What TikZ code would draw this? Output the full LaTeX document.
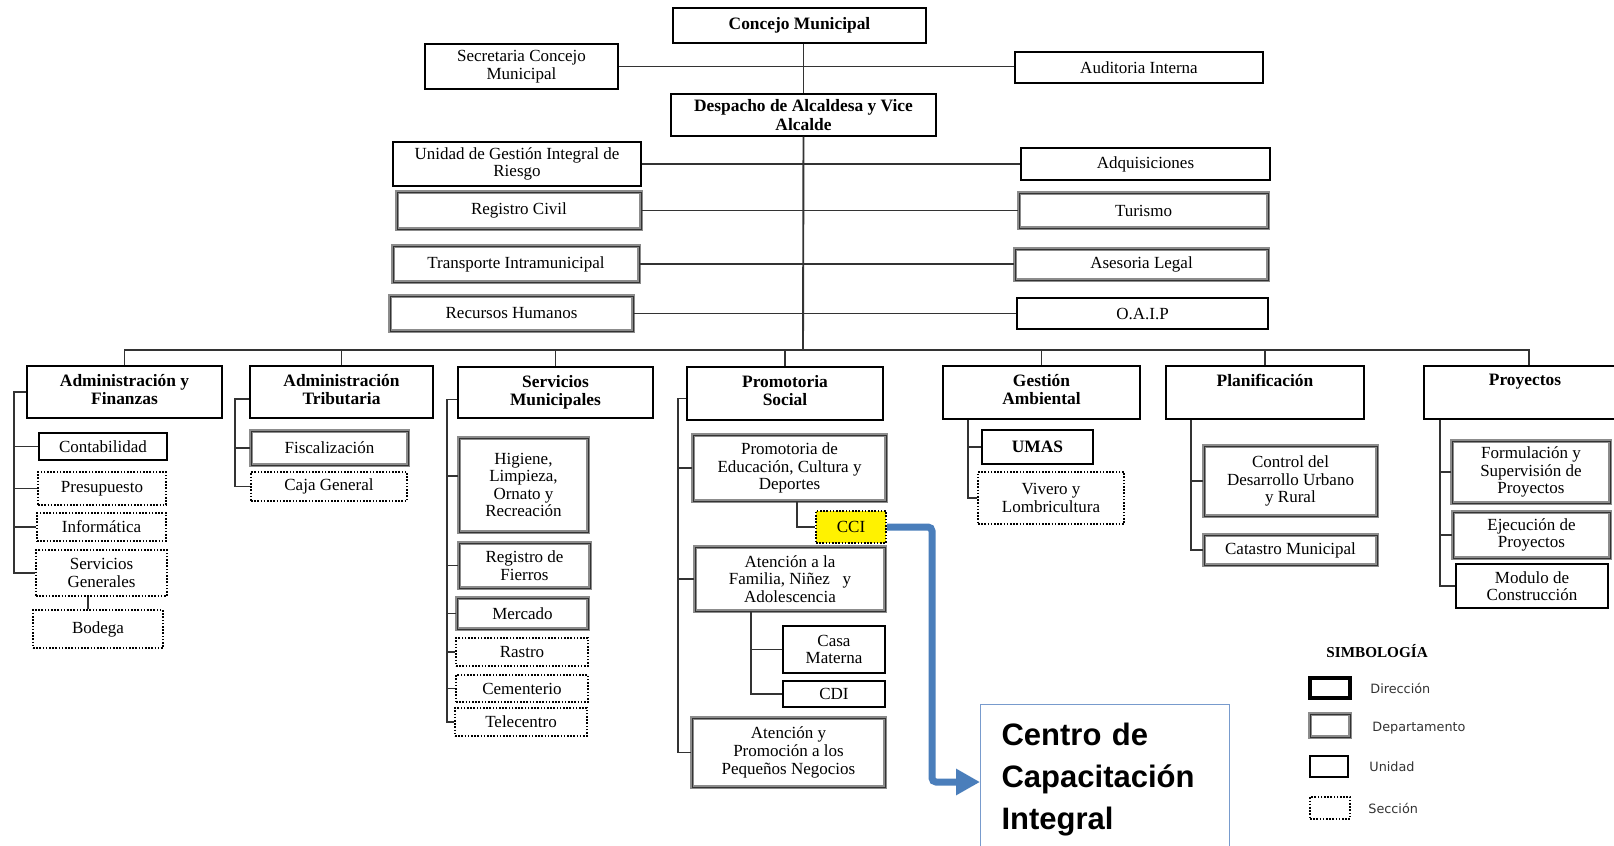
\documentclass[tikz,border=0pt]{standalone}
\usepackage{fontspec}
\setmainfont{Liberation Serif}
\newfontfamily\arialf{Liberation Sans}
\newfontfamily\legf{DejaVu Sans}
\usetikzlibrary{arrows.meta}
\definecolor{arrowblue}{RGB}{74,126,187}
\definecolor{callblue}{RGB}{120,155,205}
\newcommand\obox[7]{\node[#6, minimum width={(#4-#2)*0.5pt}, minimum height={(#5-#3)*0.5pt}] (#1) at ({(#2+#4)/2},{(#3+#5)/2}) {#7};}
\begin{document}
\begin{tikzpicture}[x=0.5pt,y=-0.5pt,
  base/.style={inner sep=1pt, align=center, fill=white, font=\fontsize{8.5}{8.8}\selectfont},
  bft/.style={font=\bfseries\fontsize{8.7}{9.2}\selectfont},
  dirbox/.style={base, draw=black, line width=1.3pt},
  deptbox/.style={base, draw=black!45, line width=0.65pt, double=black!80, double distance=0.45pt},
  unidbox/.style={base, draw=black, line width=0.65pt},
  seccbox/.style={base, draw=black, line width=0.8pt, dash pattern=on 0.8pt off 0.8pt},
  conn/.style={draw=black!80, line width=0.95pt},
  lbl/.style={anchor=north, inner sep=0pt, align=center, yshift=-4.5pt, font=\bfseries\fontsize{8.7}{9.2}\selectfont},
  legtxt/.style={anchor=west, inner sep=0pt, font=\legf\fontsize{6.4}{7}\selectfont, text=black!80},
  bluearr/.style={draw=arrowblue, line width=3.5pt, rounded corners=2pt, -{Triangle[length=12pt,width=12.5pt]}},
  callbox/.style={draw=callblue, line width=0.6pt, fill=white, anchor=north west, text width=103.5pt, align=left, inner xsep=10.5pt, inner ysep=9pt, font=\arialf\bfseries\fontsize{15.5}{21}\selectfont}
]
\useasboundingbox[fill=white] (0,0) rectangle (1614,846);

% ---- top level
\obox{conc}{673}{8}{926}{43}{unidbox, bft}{Concejo Municipal}
\obox{sec}{425}{44}{618}{89}{unidbox}{Secretaria Concejo\\Municipal}
\obox{aud}{1015}{52}{1263}{83}{unidbox}{Auditoria Interna}
\obox{desp}{671}{94}{936}{136}{unidbox, bft}{Despacho de Alcaldesa y Vice\\Alcalde}
\obox{ugir}{393}{142}{641}{186}{unidbox}{Unidad de Gestión Integral de\\Riesgo}
\obox{adq}{1021}{148}{1270}{180}{unidbox}{Adquisiciones}
\obox{rc}{397}{192}{641}{229}{deptbox}{Registro Civil}
\obox{tur}{1019}{193}{1268}{228}{deptbox}{Turismo}
\obox{trans}{393}{246}{639}{282}{deptbox}{Transporte Intramunicipal}
\obox{ases}{1015}{249}{1268}{280}{deptbox}{Asesoria Legal}
\obox{rrhh}{390}{296}{633}{331}{deptbox}{Recursos Humanos}
\obox{oaip}{1017}{298}{1268}{329}{unidbox}{O.A.I.P}

% ---- direcciones
\obox{ayf}{27}{366}{222}{418}{dirbox, label={[lbl]north:{Administración y\\Finanzas}}}{}
\obox{at}{250}{366}{433}{418}{dirbox, label={[lbl]north:{Administración\\Tributaria}}}{}
\obox{sm}{458}{367}{653}{418}{dirbox, label={[lbl]north:{Servicios\\Municipales}}}{}
\obox{ps}{687}{367}{883}{420}{dirbox, label={[lbl]north:{Promotoria\\Social}}}{}
\obox{ga}{943}{366}{1140}{419}{dirbox, label={[lbl]north:{Gestión\\Ambiental}}}{}
\obox{plan}{1166}{366}{1364}{419}{dirbox, label={[lbl]north:{Planificación}}}{}
\obox{proy}{1424}{366}{1634}{419}{dirbox, label={[lbl, xshift=-2pt]north:{Proyectos}}}{}

% ---- level 3
\obox{cont}{39}{433}{167}{460}{unidbox}{Contabilidad}
\obox{pres}{38}{472}{166}{505}{seccbox}{Presupuesto}
\obox{info}{37}{513}{166}{541}{seccbox}{Informática}
\obox{sgen}{36}{550}{167}{596}{seccbox}{Servicios\\Generales}
\obox{bod}{33}{610}{163}{648}{seccbox}{Bodega}
\obox{fisc}{251}{431}{408}{465}{deptbox}{Fiscalización}
\obox{caja}{251}{472}{407}{501}{seccbox}{Caja General}
\obox{hig}{459}{438}{588}{532}{deptbox}{Higiene,\\Limpieza,\\Ornato y\\Recreación}
\obox{rfi}{459}{543}{590}{588}{deptbox}{Registro de\\Fierros}
\obox{merc}{457}{598}{588}{629}{deptbox}{Mercado}
\obox{rast}{456}{638}{588}{666}{seccbox}{Rastro}
\obox{cem}{456}{675}{588}{702}{seccbox}{Cementerio}
\obox{tele}{455}{708}{587}{736}{seccbox}{Telecentro}
\obox{ped}{693}{435}{886}{501}{deptbox}{Promotoria de\\Educación, Cultura y\\Deportes}
\obox{cci}{816}{511}{886}{543}{seccbox, fill=yellow}{CCI}
\obox{afa}{695}{547}{885}{611}{deptbox}{Atención a la\\Familia, Niñez\ \ \ y\\Adolescencia}
\obox{cm}{783}{626}{885}{673}{unidbox}{Casa\\Materna}
\obox{cdi}{783}{681}{885}{707}{unidbox}{CDI}
\obox{apn}{692}{718}{885}{787}{deptbox}{Atención y\\Promoción a los\\Pequeños Negocios}
\obox{umas}{982}{430}{1093}{464}{unidbox, bft}{UMAS}
\obox{viv}{978}{472}{1124}{524}{seccbox}{Vivero y\\Lombricultura}
\obox{cdu}{1204}{446}{1377}{516}{deptbox}{Control del\\Desarrollo Urbano\\y Rural}
\obox{cat}{1204}{535}{1377}{565}{deptbox}{Catastro Municipal}
\obox{form}{1452}{441}{1610}{503}{deptbox}{Formulación y\\Supervisión de\\Proyectos}
\obox{ejec}{1453}{512}{1610}{558}{deptbox}{Ejecución de\\Proyectos}
\obox{mod}{1456}{564}{1608}{608}{unidbox}{Modulo de\\Construcción}

% ---- trunk and top connectors
\coordinate (bus) at (803,350);
\draw[conn] (desp.north|-conc.south) -- (desp.north);
\draw[conn] (desp.south) -- (bus);
\draw[conn] (sec.east) -- (sec.east-|aud.west);
\draw[conn] (ugir.east) -- (ugir.east-|adq.west);
\draw[conn] (rc.east) -- (rc.east-|tur.west);
\draw[conn] (trans.east) -- (trans.east-|ases.west);
\draw[conn] (rrhh.east) -- (rrhh.east-|oaip.west);

% ---- bus
\draw[conn] (ayf.north) -- (ayf.north|-bus) -- (proy.north|-bus) -- (proy.north);
\foreach \n in {at,sm,ps,ga,plan} \draw[conn] (\n.north) -- (\n.north|-bus);

% ---- Administracion y Finanzas
\coordinate (s1) at (14,392);
\draw[conn] (ayf.west) -- (ayf.west-|s1) |- (sgen.west);
\foreach \n in {cont,pres,info} \draw[conn] (\n.west) -- (\n.west-|s1);
\coordinate (bx) at (88,0);
\draw[conn] (sgen.south-|bx) -- (bod.north-|bx);

% ---- Administracion Tributaria
\coordinate (s2) at (235,0);
\draw[conn] ([yshift=-3.5pt]at.west) -| (s2|-caja.west) -- (caja.west);
\draw[conn] (fisc.west) -- (fisc.west-|s2);

% ---- Servicios Municipales
\coordinate (s3) at (447,0);
\draw[conn] ([yshift=-3.5pt]sm.west) -| (s3|-tele.west) -- (tele.west);
\draw[conn] ([yshift=4.5pt]hig.west) -- ([yshift=4.5pt]hig.west-|s3);
\foreach \n in {rfi,merc,rast,cem} \draw[conn] (\n.west) -- (\n.west-|s3);

% ---- Promotoria Social
\coordinate (s4) at (678,0);
\draw[conn] ([yshift=-2.5pt]ps.west) -| (s4|-apn.west) -- (apn.west);
\foreach \n in {ped,afa} \draw[conn] (\n.west) -- (\n.west-|s4);
\draw[conn] ([xshift=3.75pt]ped.south) |- (cci.west);
\coordinate (s5) at ([xshift=-19.5pt]afa.south);
\draw[conn] (s5) |- (cdi.west);
\draw[conn] (cm.west) -- (cm.west-|s5);

% ---- Gestion Ambiental
\coordinate (s6) at (968,0);
\draw[conn] (ga.south-|s6) |- (viv.west);
\draw[conn] (umas.west) -- (umas.west-|s6);

% ---- Planificacion
\coordinate (s7) at (1191,0);
\draw[conn] (plan.south-|s7) |- (cat.west);
\draw[conn] (cdu.west) -- (cdu.west-|s7);

% ---- Proyectos
\coordinate (s8) at (1440,0);
\draw[conn] (proy.south-|s8) |- (mod.west);
\foreach \n in {form,ejec} \draw[conn] (\n.west) -- (\n.west-|s8);

% ---- callout
\node[callbox] (call) at (980,704) {Centro de\\Capacitación\\Integral};
\coordinate (bend) at (932,782);
\draw[bluearr] (cci.east) -| (bend) -- (bend-|call.west);

% ---- legend
\node[font=\bfseries\fontsize{7.6}{8}\selectfont, anchor=base west, inner sep=0pt] (simb) at (1326,657) {SIMBOLOGÍA};
\obox{lgd}{1310}{678}{1350}{698}{dirbox, line width=1.6pt}{}
\obox{lgp}{1310}{714}{1350}{737}{deptbox}{}
\obox{lgu}{1310}{756}{1348}{777}{unidbox}{}
\obox{lgs}{1310}{797}{1350}{819}{seccbox}{}
\node[legtxt] (ltd) at (1370,688) {Dirección};
\node[legtxt] (ltp) at (1372,728) {Departamento};
\node[legtxt] (ltu) at (1369,767) {Unidad};
\node[legtxt] (lts) at (1368,808) {Sección};
\end{tikzpicture}
\end{document}
